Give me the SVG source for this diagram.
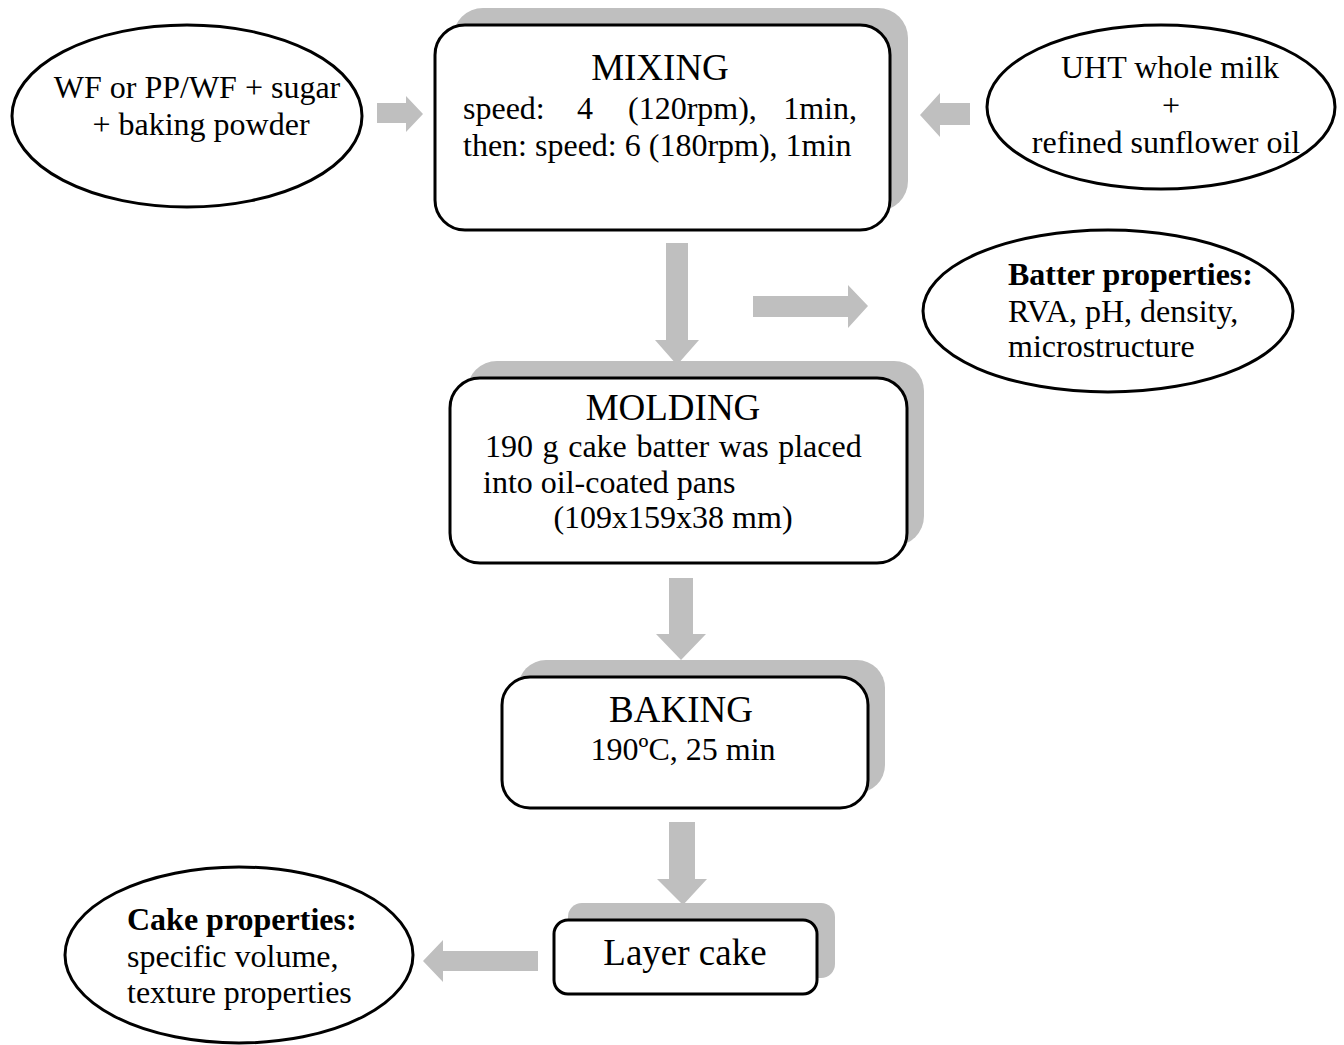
<svg xmlns="http://www.w3.org/2000/svg" width="1344" height="1045" viewBox="0 0 1344 1045">
<style>
.shadow{fill:#bfbfbf;stroke:none}
.box{fill:#ffffff;stroke:#000000;stroke-width:3}
.arrow{fill:#bfbfbf;stroke:none}
text{font-family:"Liberation Serif","Times New Roman",serif;fill:#000000}
.t{font-size:37px}
.b{font-size:32px}
.bold{font-size:32px;font-weight:bold}
.c{text-anchor:middle}
</style>
<rect width="1344" height="1045" fill="#ffffff"/>
<g id="connectors">
<polygon class="arrow" points="377,103 406,103 406,96 423,114 406,132 406,123 377,123"/>
<polygon class="arrow" points="970,103 940,103 940,93 920,115 940,137 940,125 970,125"/>
<polygon class="arrow" points="666,243 688,243 688,340 699,340 677,365 655,340 666,340"/>
<polygon class="arrow" points="753,296 848,296 848,285 868,306 848,328 848,317 753,317"/>
<polygon class="arrow" points="669,578 693,578 693,634 706,634 681,660 656,634 669,634"/>
<polygon class="arrow" points="669,822 695,822 695,879 707,879 683,905 657,879 669,879"/>
<polygon class="arrow" points="538,951 443,951 443,940 423,961 443,982 443,971 538,971"/>
</g>
<g id="ingredients-dry">
<ellipse class="box" cx="187" cy="116" rx="175" ry="91"/>
<text class="b c" x="197" y="98">WF or PP/WF + sugar</text>
<text class="b c" x="201" y="135">+ baking powder</text>
</g>
<g id="mixing">
<rect class="shadow" x="453" y="8" width="455" height="203" rx="30"/>
<rect class="box" x="435" y="25" width="455" height="205" rx="30"/>
<text class="t c" x="660" y="80">MIXING</text>
<text class="b" y="119"><tspan x="463">speed:</tspan><tspan x="577">4</tspan><tspan x="628">(120rpm),</tspan></text>
<text class="b" x="857" y="119" text-anchor="end">1min,</text>
<text class="b" x="463" y="156">then: speed: 6 (180rpm), 1min</text>
</g>
<g id="ingredients-liquid">
<ellipse class="box" cx="1161" cy="107" rx="174" ry="82"/>
<text class="b c" x="1170" y="78">UHT whole milk</text>
<text class="b c" x="1171" y="116">+</text>
<text class="b c" x="1166" y="153">refined sunflower oil</text>
</g>
<g id="batter-properties">
<ellipse class="box" cx="1108" cy="311" rx="185" ry="81"/>
<text class="bold" x="1008" y="285">Batter properties:</text>
<text class="b" x="1008" y="322">RVA, pH, density,</text>
<text class="b" x="1008" y="357">microstructure</text>
</g>
<g id="molding">
<rect class="shadow" x="467" y="361" width="457" height="185" rx="30"/>
<rect class="box" x="450" y="378" width="457" height="185" rx="30"/>
<text class="t c" x="673" y="420">MOLDING</text>
<text class="b" x="485" y="457" word-spacing="1.6">190 g cake batter was placed</text>
<text class="b" x="483" y="493">into oil-coated pans</text>
<text class="b c" x="673" y="528">(109x159x38 mm)</text>
</g>
<g id="baking">
<rect class="shadow" x="518" y="660" width="367" height="133" rx="28"/>
<rect class="box" x="502" y="677" width="366" height="131" rx="28"/>
<text class="t c" x="681" y="722">BAKING</text>
<text class="b c" x="683" y="760">190ºC, 25 min</text>
</g>
<g id="layer-cake">
<rect class="shadow" x="568" y="903" width="267" height="75" rx="14"/>
<rect class="box" x="554" y="920" width="263" height="74" rx="14"/>
<text class="t c" x="685" y="965">Layer cake</text>
</g>
<g id="cake-properties">
<ellipse class="box" cx="239" cy="955" rx="174" ry="88"/>
<text class="bold" x="127" y="930">Cake properties:</text>
<text class="b" x="127" y="967">specific volume,</text>
<text class="b" x="127" y="1003">texture properties</text>
</g>
</svg>
